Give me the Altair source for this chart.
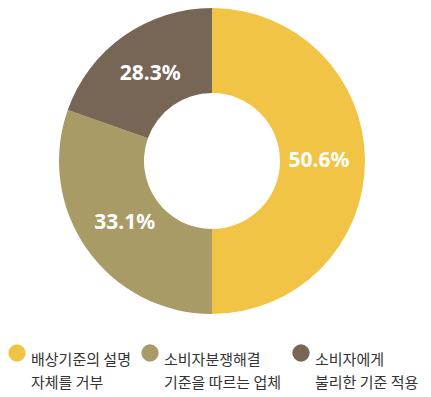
import altair as alt
import pandas as pd

categories = ["배상기준의 설명\n자체를 거부", "소비자분쟁해결\n기준을 따르는 업체", "소비자에게\n불리한 기준 적용"]
labels = ["50.6%", "33.1%", "28.3%"]
shares = [50.0, 30.4, 19.6]  # slice sizes as drawn
colors = ["#f2c445", "#a89b65", "#776656"]

df = pd.DataFrame({"cat": categories, "label": labels, "share": shares, "idx": [0, 1, 2]})

base = alt.Chart(df).encode(
    theta=alt.Theta("share:Q", stack=True),
    order=alt.Order("idx:Q"),
)

arcs = base.mark_arc(outerRadius=153, innerRadius=68).encode(
    color=alt.Color(
        "cat:N",
        scale=alt.Scale(domain=categories, range=colors),
        sort=categories,
        legend=alt.Legend(
            title=None,
            orient="none",
            legendX=0,
            legendY=334,
            direction="horizontal",
            columns=3,
            symbolType="circle",
            symbolSize=300,
            symbolStrokeWidth=0,
            labelFont="Noto Sans CJK KR",
            labelFontSize=15,
            labelColor="#333333",
            labelBaseline="top",
            labelExpr="split(datum.label, '\\n')",
            labelLimit=200,
            columnPadding=10,
            labelOffset=5,
        ),
    )
)

text = base.mark_text(
    radius=107, font="Noto Sans", fontSize=21, fontWeight="bold", color="white"
).encode(text="label:N")

chart = (arcs + text).properties(
    width=408, height=302, autosize=alt.AutoSizeParams(type="pad"), padding=0
).configure_view(stroke=None).configure(
    style={"guide-label": {"lineHeight": 23}}
)

chart.save("out.html", embed_options={"renderer": "svg", "actions": False})
